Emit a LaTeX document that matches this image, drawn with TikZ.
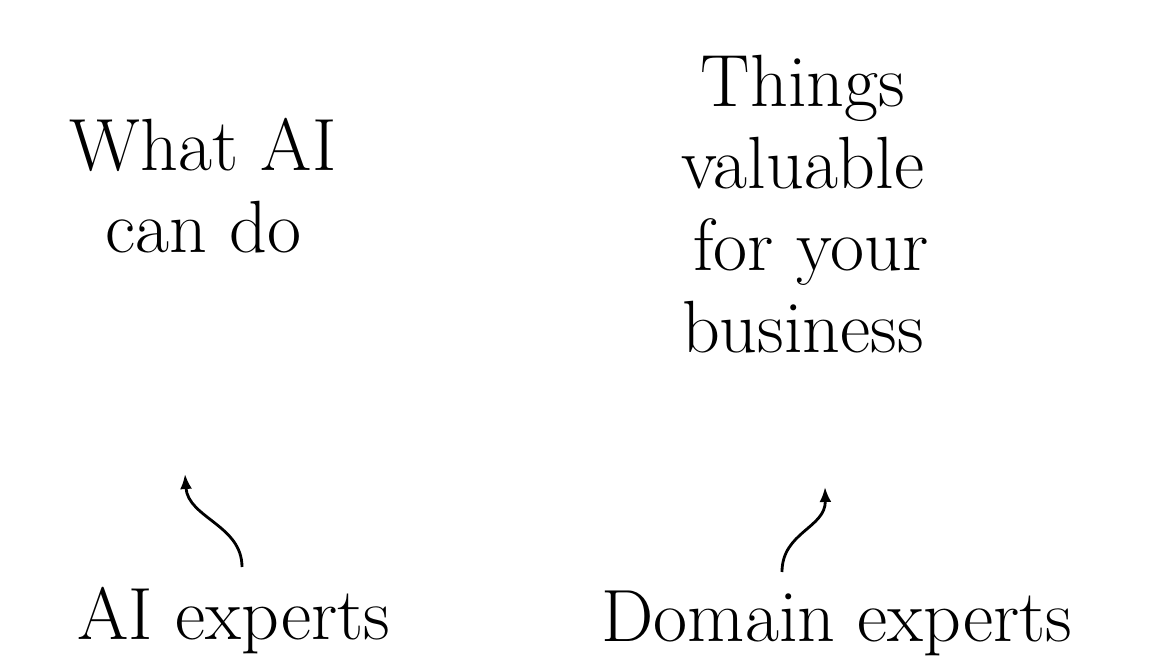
\documentclass[tikz,border=0pt]{standalone}
\usepackage{fontspec}
\setmainfont{Latin Modern Roman}
\usetikzlibrary{arrows.meta}
\begin{document}
\begin{tikzpicture}[x=1pt,y=-1pt,
  lbl/.style={inner sep=0pt, align=center, anchor=base, font=\fontsize{74}{82}\selectfont},
  curvedarrow/.style={line width=2.8pt, -{Latex[length=15pt,width=12pt]}}]
\useasboundingbox (0,0) rectangle (1168,670);
\node[lbl] (can) at (203,252) {What AI\\can do};
\node[lbl] (things) at (803,352) {Things\\valuable\\\hspace*{16pt}for your\\business};
\node[lbl] (aiexp) at (234,639) {AI experts};
\node[lbl] (domexp) at (837,641) {Domain experts};
\coordinate (a1s) at (242,567);
\coordinate (a1e) at (185,474);
\coordinate (a2s) at (782,572);
\coordinate (a2e) at (825,487);
\draw[curvedarrow] (a1s) .. controls (242,525) and (188,518) .. (a1e);
\draw[curvedarrow] (a2s) .. controls (782,532) and (826,528) .. (a2e);
\end{tikzpicture}
\end{document}
